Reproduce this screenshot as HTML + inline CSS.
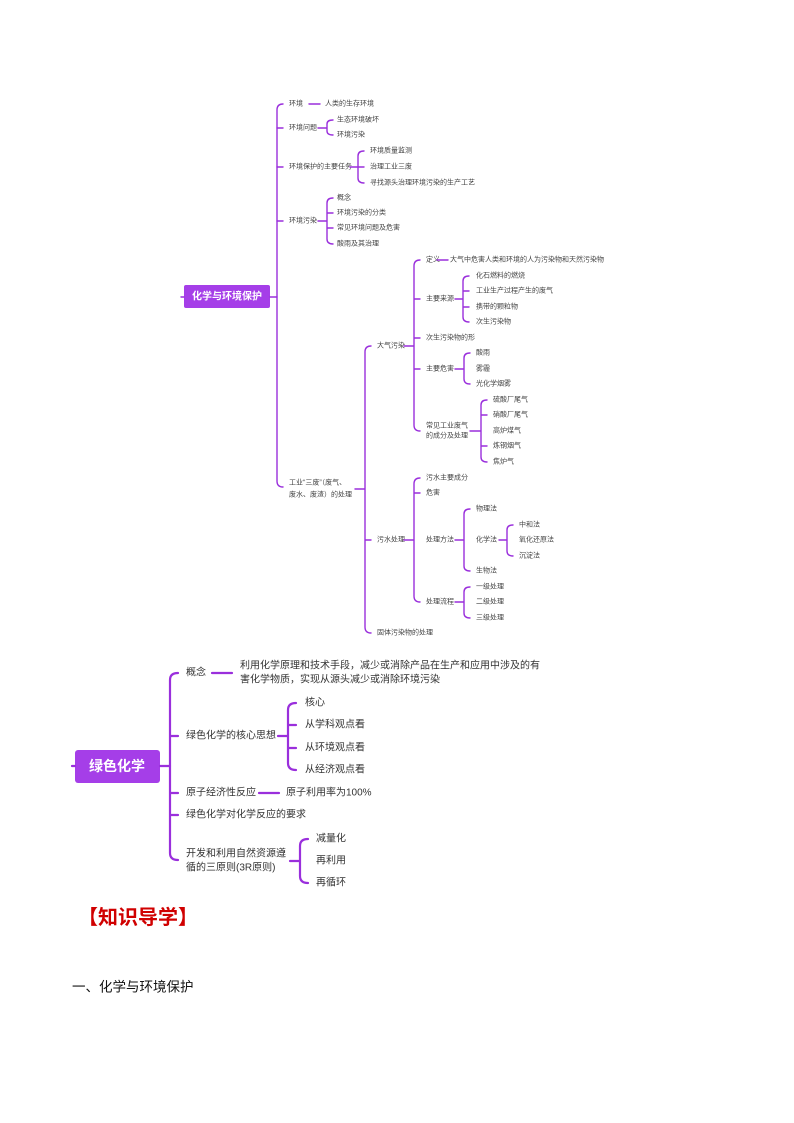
<!DOCTYPE html>
<html><head><meta charset="utf-8"><style>
html,body{margin:0;padding:0;background:#fff;}
svg{display:block;}
text{font-family:"Liberation Sans","Noto Sans CJK SC",sans-serif;fill:#444;dominant-baseline:central;}
.s{font-size:7px;}
.b{font-size:10px;fill:#333;}
.l{fill:none;stroke:#9a2fdc;stroke-width:1.4;stroke-linecap:round;}
.L{fill:none;stroke:#9a2fdc;stroke-width:2.2;stroke-linecap:round;}
</style></head><body>
<svg width="794" height="1123" viewBox="0 0 794 1123">
<!-- ===== Map 1 ===== -->
<rect x="184" y="285" width="86" height="23" rx="2" fill="#a53ee8"/>
<text x="227" y="297" text-anchor="middle" style="font-size:10px;font-weight:bold;fill:#fff">化学与环境保护</text>
<path class="l" d="M181 297H184"/>
<path class="l" d="M270 297H277"/>
<path class="l" d="M283 104Q277 104 277 110V481Q277 487 283 487"/>
<path class="l" d="M277 128H283M277 167H283M277 221H283"/>
<text class="s" x="289" y="104">环境</text>
<path class="l" d="M309 104H320"/>
<text class="s" x="325" y="104">人类的生存环境</text>
<text class="s" x="289" y="128">环境问题</text>
<path class="l" d="M318 128H327M333 120Q327 120 327 124V131Q327 135 333 135"/>
<text class="s" x="337" y="120">生态环境破坏</text>
<text class="s" x="337" y="135">环境污染</text>
<text class="s" x="289" y="167">环境保护的主要任务</text>
<path class="l" d="M350 167H364M364 151Q358 151 358 156V178Q358 183 364 183"/>
<text class="s" x="370" y="151">环境质量监测</text>
<text class="s" x="370" y="167">治理工业三废</text>
<text class="s" x="370" y="183">寻找源头治理环境污染的生产工艺</text>
<text class="s" x="289" y="221">环境污染</text>
<path class="l" d="M318 221H327M333 198Q327 198 327 203V239Q327 244 333 244M327 213H333M327 228H333"/>
<text class="s" x="337" y="198">概念</text>
<text class="s" x="337" y="213">环境污染的分类</text>
<text class="s" x="337" y="228">常见环境问题及危害</text>
<text class="s" x="337" y="244">酸雨及其治理</text>
<text class="s" x="289" y="483">工业“三废”（废气、</text>
<text class="s" x="289" y="495">废水、废渣）的处理</text>
<path class="l" d="M355 489H365M371 346Q365 346 365 352V627Q365 633 371 633M365 540H371"/>
<text class="s" x="377" y="346">大气污染</text>
<path class="l" d="M404 346H414M420 260Q414 260 414 266V425Q414 431 420 431M414 299H420M414 338H420M414 369H420"/>
<text class="s" x="426" y="260">定义</text>
<path class="l" d="M437 260H448"/>
<text class="s" x="450" y="260">大气中危害人类和环境的人为污染物和天然污染物</text>
<text class="s" x="426" y="299">主要来源</text>
<path class="l" d="M455 299H463M469 276Q463 276 463 281V317Q463 322 469 322M463 291H469M463 307H469"/>
<text class="s" x="476" y="276">化石燃料的燃烧</text>
<text class="s" x="476" y="291">工业生产过程产生的废气</text>
<text class="s" x="476" y="307">携带的颗粒物</text>
<text class="s" x="476" y="322">次生污染物</text>
<text class="s" x="426" y="338">次生污染物的形</text>
<text class="s" x="426" y="369">主要危害</text>
<path class="l" d="M455 369H464M470 353Q464 353 464 358V379Q464 384 470 384"/>
<text class="s" x="476" y="353">酸雨</text>
<text class="s" x="476" y="369">雾霾</text>
<text class="s" x="476" y="384">光化学烟雾</text>
<text class="s" x="426" y="426">常见工业废气</text>
<text class="s" x="426" y="436">的成分及处理</text>
<path class="l" d="M470 431H481M487 400Q481 400 481 405V457Q481 462 487 462M481 415H487M481 446H487"/>
<text class="s" x="493" y="400">硫酸厂尾气</text>
<text class="s" x="493" y="415">硝酸厂尾气</text>
<text class="s" x="493" y="431">高炉煤气</text>
<text class="s" x="493" y="446">炼钢烟气</text>
<text class="s" x="493" y="462">焦炉气</text>
<text class="s" x="377" y="540">污水处理</text>
<path class="l" d="M404 540H414M420 478Q414 478 414 484V596Q414 602 420 602M414 493H420"/>
<text class="s" x="426" y="478">污水主要成分</text>
<text class="s" x="426" y="493">危害</text>
<text class="s" x="426" y="540">处理方法</text>
<path class="l" d="M455 540H464M470 509Q464 509 464 514V566Q464 571 470 571"/>
<text class="s" x="476" y="509">物理法</text>
<text class="s" x="476" y="540">化学法</text>
<path class="l" d="M499 540H507M513 525Q507 525 507 530V551Q507 556 513 556"/>
<text class="s" x="519" y="525">中和法</text>
<text class="s" x="519" y="540">氧化还原法</text>
<text class="s" x="519" y="556">沉淀法</text>
<text class="s" x="476" y="571">生物法</text>
<text class="s" x="426" y="602">处理流程</text>
<path class="l" d="M455 602H464M470 587Q464 587 464 592V613Q464 618 470 618"/>
<text class="s" x="476" y="587">一级处理</text>
<text class="s" x="476" y="602">二级处理</text>
<text class="s" x="476" y="618">三级处理</text>
<text class="s" x="377" y="633">固体污染物的处理</text>

<!-- ===== Map 2 ===== -->
<rect x="75" y="750" width="85" height="33" rx="3" fill="#a53ee8"/>
<text x="117" y="766" text-anchor="middle" style="font-size:14px;font-weight:bold;fill:#fff">绿色化学</text>
<path class="L" d="M72 766H75M160 766H170"/>
<path class="L" d="M178 673Q170 673 170 680V853Q170 860 178 860M170 736H178M170 793H178M170 815H178"/>
<text class="b" x="186" y="673">概念</text>
<path class="L" d="M212 673H232"/>
<text class="b" x="240" y="666">利用化学原理和技术手段，减少或消除产品在生产和应用中涉及的有</text>
<text class="b" x="240" y="680">害化学物质，实现从源头减少或消除环境污染</text>
<text class="b" x="186" y="736">绿色化学的核心思想</text>
<path class="L" d="M278 736H288M296 703Q288 703 288 710V763Q288 770 296 770M288 725H296M288 748H296"/>
<text class="b" x="305" y="703">核心</text>
<text class="b" x="305" y="725">从学科观点看</text>
<text class="b" x="305" y="748">从环境观点看</text>
<text class="b" x="305" y="770">从经济观点看</text>
<text class="b" x="186" y="793">原子经济性反应</text>
<path class="L" d="M259 793H279"/>
<text class="b" x="286" y="793">原子利用率为100%</text>
<text class="b" x="186" y="815">绿色化学对化学反应的要求</text>
<text class="b" x="186" y="854">开发和利用自然资源遵</text>
<text class="b" x="186" y="868">循的三原则(3R原则)</text>
<path class="L" d="M290 861H300M308 839Q300 839 300 846V876Q300 883 308 883"/>
<text class="b" x="316" y="839">减量化</text>
<text class="b" x="316" y="861">再利用</text>
<text class="b" x="316" y="883">再循环</text>

<!-- ===== Headings ===== -->
<text x="78" y="918" style="font-size:20px;font-weight:bold;fill:#d00000">【知识导学】</text>
<text x="72" y="987" style="font-size:13.5px;fill:#111">一、化学与环境保护</text>
</svg>
</body></html>
